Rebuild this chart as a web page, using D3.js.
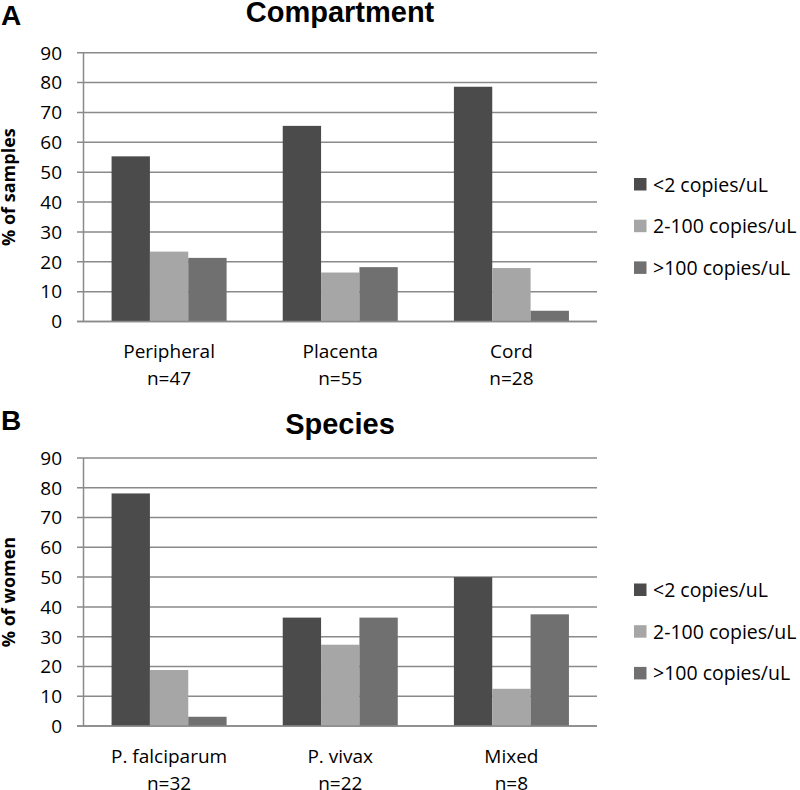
<!DOCTYPE html>
<html>
<head>
<meta charset="utf-8">
<script src="https://cdn.jsdelivr.net/npm/d3@7"></script>
<style>
  html, body { margin: 0; padding: 0; background: #fff; }
  svg { display: block; }
</style>
</head>
<body>
<svg id="chart" width="800" height="790"></svg>
<script>
// ---------------- data ----------------
const seriesNames = ["<2 copies/uL", "2-100 copies/uL", ">100 copies/uL"];
const seriesColors = ["#4b4b4b", "#a6a6a6", "#707070"];
const yTickValues = [0, 10, 20, 30, 40, 50, 60, 70, 80, 90];

// Panel A: Compartment
const compartmentCategories = ["Peripheral", "Placenta", "Cord"];
const compartmentN = ["n=47", "n=55", "n=28"];
const compartmentLow = [55.3, 65.5, 78.6];
const compartmentMid = [23.4, 16.4, 17.9];
const compartmentHigh = [21.3, 18.2, 3.6];

// Panel B: Species
const speciesCategories = ["P. falciparum", "P. vivax", "Mixed"];
const speciesN = ["n=32", "n=22", "n=8"];
const speciesLow = [78.1, 36.4, 50.0];
const speciesMid = [18.8, 27.3, 12.5];
const speciesHigh = [3.1, 36.4, 37.5];

// ---------------- drawing ----------------
const svg = d3.select("#chart");
const tickFont = "'Open Sans', sans-serif";
const boldFont = "'Liberation Sans', Arial, sans-serif";

function drawPanel(opt) {
  const g = svg.append("g");
  const x0 = d3.scaleBand()
    .domain(opt.categories)
    .range([83.5, 597])
    .paddingInner(0.328)
    .paddingOuter(0.164);
  const x1 = d3.scaleBand()
    .domain(seriesNames)
    .range([0, x0.bandwidth()])
    .padding(0);
  const y = d3.scaleLinear().domain([0, 90]).range([opt.bottom, opt.top]);

  // gridlines
  g.append("g")
    .selectAll("line")
    .data(yTickValues)
    .join("line")
    .attr("x1", 77)
    .attr("x2", 597)
    .attr("y1", d => y(d))
    .attr("y2", d => y(d))
    .attr("stroke", "#8a8a8a")
    .attr("stroke-width", 1.5);

  // y axis line
  g.append("line")
    .attr("x1", 83.5).attr("x2", 83.5)
    .attr("y1", y(90)).attr("y2", y(0))
    .attr("stroke", "#8a8a8a")
    .attr("stroke-width", 1.5);

  // y tick labels
  g.append("g")
    .selectAll("text")
    .data(yTickValues)
    .join("text")
    .attr("x", 62)
    .attr("y", d => y(d))
    .attr("dy", "0.36em")
    .attr("text-anchor", "end")
    .attr("font-family", tickFont)
    .attr("font-size", 19)
    .attr("fill", "#000")
    .text(d => d);

  // bars
  const rows = opt.categories.map((c, i) => ({
    cat: c,
    vals: [opt.low[i], opt.mid[i], opt.high[i]]
  }));
  const grp = g.append("g")
    .selectAll("g")
    .data(rows)
    .join("g")
    .attr("transform", d => `translate(${x0(d.cat)},0)`);
  grp.selectAll("rect")
    .data(d => d.vals.map((v, j) => ({ s: seriesNames[j], v, j })))
    .join("rect")
    .attr("x", d => x1(d.s))
    .attr("width", x1.bandwidth())
    .attr("y", d => y(d.v))
    .attr("height", d => y(0) - y(d.v))
    .attr("fill", d => seriesColors[d.j]);

  // redraw baseline on top
  g.append("line")
    .attr("x1", 77).attr("x2", 597)
    .attr("y1", y(0)).attr("y2", y(0))
    .attr("stroke", "#8a8a8a")
    .attr("stroke-width", 1.5);

  // category labels
  const lab = g.append("g")
    .selectAll("text")
    .data(opt.categories)
    .join("text")
    .attr("text-anchor", "middle")
    .attr("font-family", tickFont)
    .attr("font-size", 19)
    .attr("fill", "#000");
  lab.append("tspan")
    .attr("x", d => x0(d) + x0.bandwidth() / 2)
    .attr("y", y(0) + 36.5)
    .text(d => d);
  lab.append("tspan")
    .attr("x", d => x0(d) + x0.bandwidth() / 2)
    .attr("y", y(0) + 63.5)
    .text((d, i) => opt.n[i]);

  // y axis title
  g.append("text")
    .attr("transform", `translate(15,${(y(0) + y(90)) / 2}) rotate(-90)`)
    .attr("text-anchor", "middle")
    .attr("font-family", tickFont)
    .attr("font-weight", "bold")
    .attr("font-size", 18)
    .attr("fill", "#000")
    .text(opt.yTitle);

  // chart title
  g.append("text")
    .attr("x", 340)
    .attr("y", opt.titleY)
    .attr("text-anchor", "middle")
    .attr("font-family", boldFont)
    .attr("font-weight", "bold")
    .attr("font-size", 29)
    .attr("fill", "#000")
    .text(opt.title);

  // panel letter
  g.append("text")
    .attr("x", 1)
    .attr("y", opt.letterY)
    .attr("font-family", boldFont)
    .attr("font-weight", "bold")
    .attr("font-size", 28)
    .attr("fill", "#000")
    .text(opt.letter);

  // legend
  const leg = g.append("g")
    .selectAll("g")
    .data(seriesNames)
    .join("g")
    .attr("transform", (d, i) => `translate(634,${opt.legendTop + i * 41.7})`);
  leg.append("rect")
    .attr("width", 12.5)
    .attr("height", 12.5)
    .attr("fill", (d, i) => seriesColors[i]);
  leg.append("text")
    .attr("x", 19)
    .attr("y", 13.5)
    .attr("font-family", tickFont)
    .attr("font-size", 19.5)
    .attr("fill", "#000")
    .text(d => d);
}

drawPanel({
  categories: compartmentCategories,
  n: compartmentN,
  low: compartmentLow,
  mid: compartmentMid,
  high: compartmentHigh,
  top: 52.7,
  bottom: 321.5,
  title: "Compartment",
  titleY: 22,
  letter: "A",
  letterY: 25,
  yTitle: "% of samples",
  legendTop: 178
});

drawPanel({
  categories: speciesCategories,
  n: speciesN,
  low: speciesLow,
  mid: speciesMid,
  high: speciesHigh,
  top: 458,
  bottom: 726,
  title: "Species",
  titleY: 434,
  letter: "B",
  letterY: 430,
  yTitle: "% of women",
  legendTop: 583.5
});
</script>
</body>
</html>
